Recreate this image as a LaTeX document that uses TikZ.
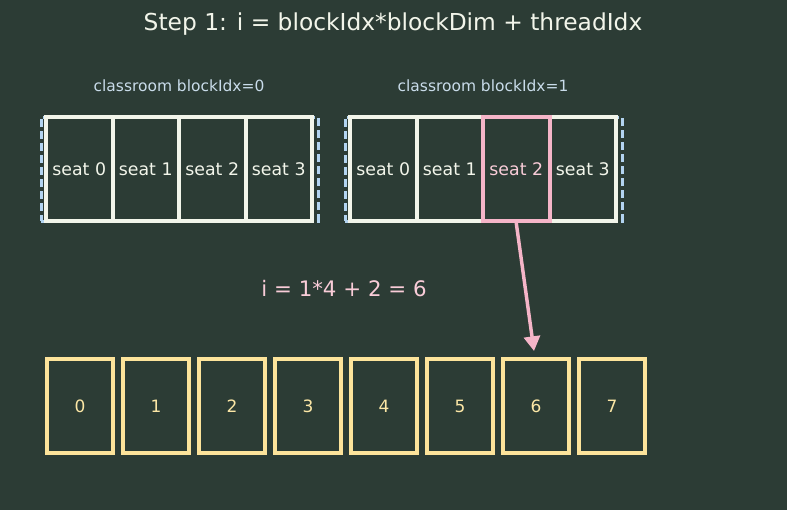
\documentclass[tikz,border=0pt]{standalone}
\usepackage{fontspec}
\setmainfont{DejaVu Sans}
\usetikzlibrary{arrows.meta,calc}
\definecolor{bgc}{HTML}{2C3C35}
\definecolor{seatline}{HTML}{F2F5EA}
\definecolor{roomline}{HTML}{B3D4F0}
\definecolor{hotline}{HTML}{F5B5C8}
\definecolor{binline}{HTML}{FDE49B}
\definecolor{labeltext}{HTML}{C9DCEA}
\definecolor{hottext}{HTML}{F9CCD8}
\definecolor{bintext}{HTML}{FCE7A6}
\begin{document}
\begin{tikzpicture}[x=0.75pt, y=-0.75pt,
  seat/.style={draw=seatline, line width=3pt, minimum width=49.875pt, minimum height=78pt,
    inner sep=0pt, text=seatline, font=\fontsize{13}{15}\selectfont},
  hot/.style={draw=hotline, text=hottext},
  room/.style={draw=roomline, line width=2.25pt, dash pattern=on 6pt off 3pt,
    minimum width=207.75pt, minimum height=78pt, inner sep=0pt},
  roomlabel/.style={text=labeltext, font=\fontsize{11.6}{14}\selectfont},
  bin/.style={draw=binline, line width=3pt, minimum width=49.5pt, minimum height=70.5pt,
    inner sep=0pt, text=bintext, font=\fontsize{12.75}{15}\selectfont}]
\fill[bgc] (0,0) rectangle (787,510);
\useasboundingbox (0,0) rectangle (787,510);

\node[text=seatline, font=\fontsize{17.5}{21}\selectfont] (title) at (393,24) {Step 1: i = blockIdx*blockDim + threadIdx};

% classroom 0
\node[roomlabel] (lab0) at (179,86) {classroom blockIdx=0};
\node[room] (room0) at (179.5,169) {};
\node[seat] (r0s0) at (79.25,169) {seat 0};
\node[seat] (r0s1) at (145.75,169) {seat 1};
\node[seat] (r0s2) at (212.25,169) {seat 2};
\node[seat] (r0s3) at (278.75,169) {seat 3};

% classroom 1
\node[roomlabel] (lab1) at (483,86) {classroom blockIdx=1};
\node[room] (room1) at (483.5,169) {};
\node[seat] (r1s0) at (383.25,169) {seat 0};
\node[seat] (r1s1) at (449.75,169) {seat 1};
\node[seat] (r1s3) at (582.75,169) {seat 3};
\node[seat, hot] (r1s2) at (516.25,169) {seat 2};

\node[text=hottext, font=\fontsize{16}{19}\selectfont] (calc) at (344,289) {i = 1*4 + 2 = 6};

% global array
\node[bin] (bin0) at (80,406) {0};
\node[bin] (bin1) at (156,406) {1};
\node[bin] (bin2) at (232,406) {2};
\node[bin] (bin3) at (308,406) {3};
\node[bin] (bin4) at (384,406) {4};
\node[bin] (bin5) at (460,406) {5};
\node[bin] (bin6) at (536,406) {6};
\node[bin] (bin7) at (612,406) {7};

\draw[hotline, line width=2.6pt, -{Triangle[width=12pt,length=11pt]}]
  (r1s2.south) -- ($(bin6.north)+(-2,-6)$);
\end{tikzpicture}
\end{document}
